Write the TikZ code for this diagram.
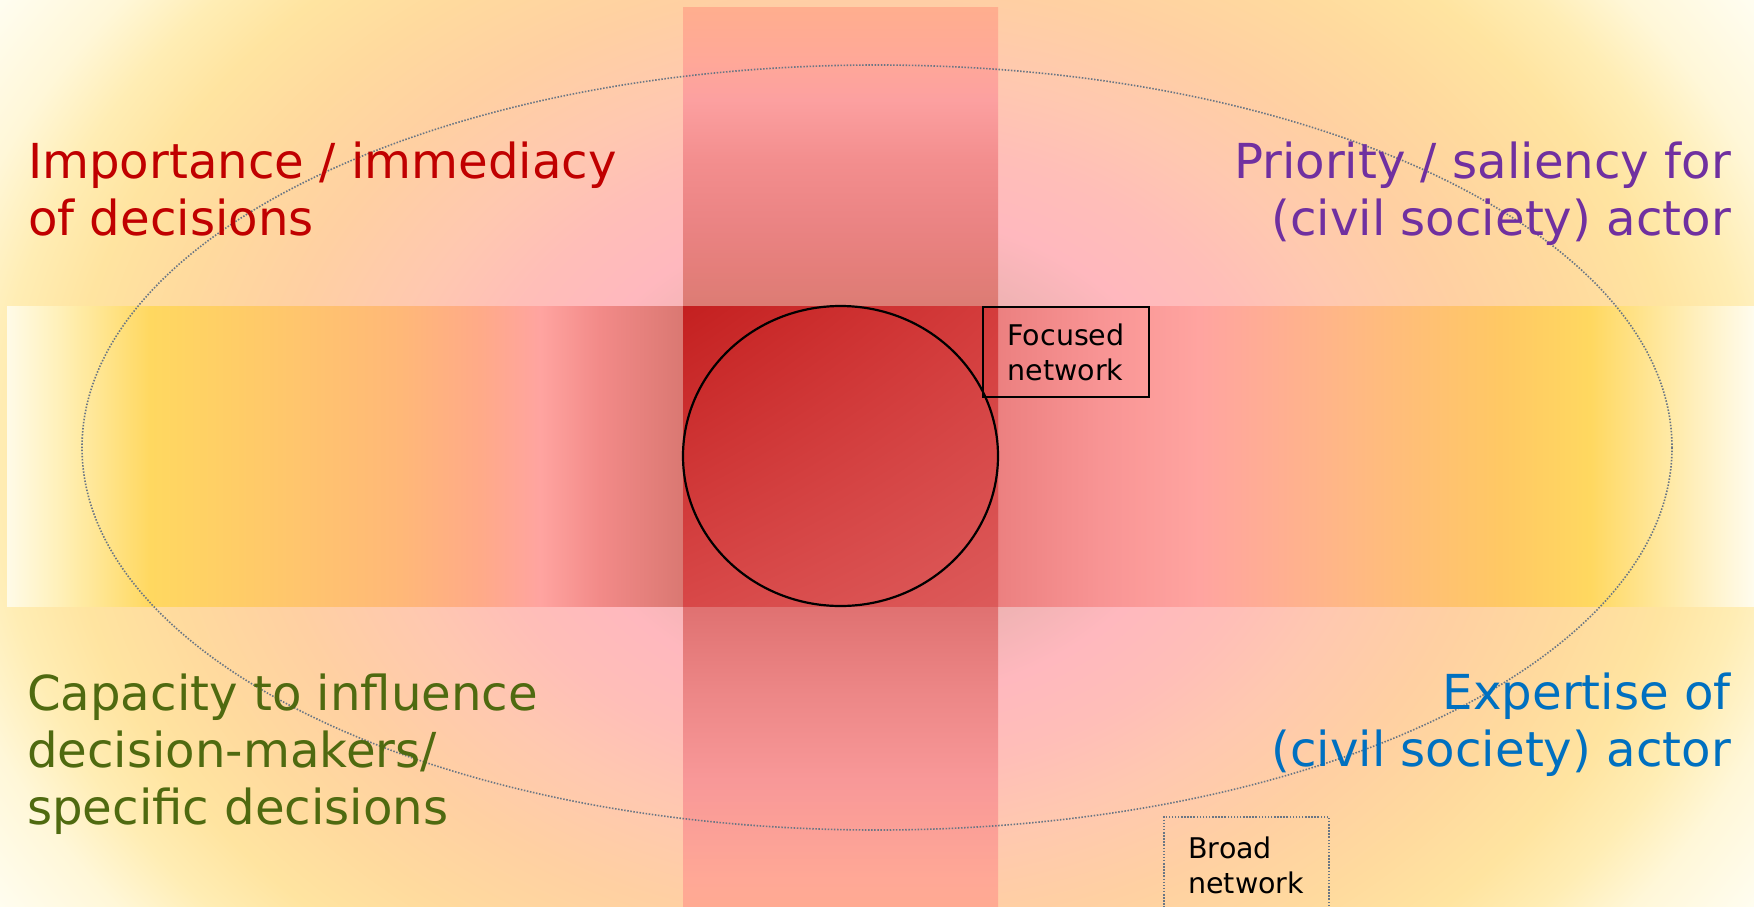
\documentclass[tikz,border=0pt]{standalone}
\usepackage{fontspec}
\setmainfont{DejaVu Sans}
\usetikzlibrary{shadings}

% background radial colours
\definecolor{bga}{HTML}{C07C7C}
\definecolor{bgb}{HTML}{DCA2A2}
\definecolor{bgc}{HTML}{EEB2B2}
\definecolor{bgd}{HTML}{FFB8BE}
\definecolor{bge}{HTML}{FFBEB8}
\definecolor{bgf}{HTML}{FFC8B0}
\definecolor{bgg}{HTML}{FFD0A2}
\definecolor{bgh}{HTML}{FFDA9E}
\definecolor{bgi}{HTML}{FFE4A0}
\definecolor{bgj}{HTML}{FFEDB4}
\definecolor{bgk}{HTML}{FFF7D8}
\definecolor{bgl}{HTML}{FFFDF0}
% horizontal band colours
\definecolor{ha}{HTML}{FFFBE8}
\definecolor{hb}{HTML}{FFF0B8}
\definecolor{hc}{HTML}{FFD860}
\definecolor{hd}{HTML}{FFCB68}
\definecolor{he}{HTML}{FFB878}
\definecolor{hf}{HTML}{FFAA88}
\definecolor{hg}{HTML}{FFA4A0}
\definecolor{hh}{HTML}{F28A88}
\definecolor{hi}{HTML}{DA7872}
\definecolor{hj}{HTML}{EC8080}
\definecolor{hk}{HTML}{F89494}
\definecolor{hl}{HTML}{FFA4A0}
\definecolor{hm}{HTML}{FFB884}
\definecolor{hn}{HTML}{FFC864}
\definecolor{ho}{HTML}{FFD860}
\definecolor{hp}{HTML}{FFF0C0}
\definecolor{hq}{HTML}{FFFCEE}
% vertical band colours (bottom to top)
\definecolor{va}{HTML}{FFAA92}
\definecolor{vb}{HTML}{FFA896}
\definecolor{vc}{HTML}{F89898}
\definecolor{vd}{HTML}{EC8686}
\definecolor{ve}{HTML}{E07272}
\definecolor{vf}{HTML}{D06060}
\definecolor{vg}{HTML}{DC7C74}
\definecolor{vh}{HTML}{E47E7A}
\definecolor{vi}{HTML}{EB8484}
\definecolor{vj}{HTML}{F38E8E}
\definecolor{vk}{HTML}{FCA0A0}
\definecolor{vl}{HTML}{FFA898}
\definecolor{vm}{HTML}{FFAE8E}
% centre
\definecolor{cul}{HTML}{C42020}
\definecolor{cur}{HTML}{D43C3C}
\definecolor{cll}{HTML}{D84848}
\definecolor{clr}{HTML}{DC5A5A}
% text & lines
\definecolor{tred}{HTML}{C00000}
\definecolor{tpurple}{HTML}{7030A0}
\definecolor{tgreen}{HTML}{4F6A10}
\definecolor{tblue}{HTML}{0070C0}
\definecolor{dotgray}{HTML}{6A7684}

\pgfdeclareradialshading{bgshade}{\pgfpoint{0bp}{0bp}}{%
color(0bp)=(bga); color(3.75bp)=(bgb); color(6.25bp)=(bgc); color(8.75bp)=(bgd);
color(11.25bp)=(bge); color(13.75bp)=(bgf); color(17bp)=(bgg); color(20bp)=(bgh);
color(22.5bp)=(bgi); color(24.5bp)=(bgj); color(26.5bp)=(bgk); color(29.25bp)=(bgl);
color(50bp)=(bgl)}

\pgfdeclarehorizontalshading{hband}{100bp}{%
color(0bp)=(ha); color(25bp)=(ha); color(26.52bp)=(hb); color(29.09bp)=(hc);
color(31.95bp)=(hd); color(36.25bp)=(he); color(38.54bp)=(hf); color(40.25bp)=(hg);
color(41.97bp)=(hh); color(44.35bp)=(hi); color(53.36bp)=(hj); color(56.28bp)=(hk);
color(59.14bp)=(hl); color(63.44bp)=(hm); color(67.73bp)=(hn); color(70.31bp)=(ho);
color(73.45bp)=(hp); color(75bp)=(hq); color(100bp)=(hq)}

\pgfdeclareverticalshading{vband}{100bp}{%
color(0bp)=(va); color(25bp)=(va); color(26.45bp)=(vb); color(32.01bp)=(vc);
color(37.01bp)=(vd); color(41.46bp)=(ve); color(50bp)=(vf); color(58.43bp)=(vg);
color(60.37bp)=(vh); color(63.15bp)=(vi); color(66.49bp)=(vj); color(69.83bp)=(vk);
color(72.05bp)=(vl); color(75bp)=(vm); color(100bp)=(vm)}

\tikzset{
  bigtext/.style={inner sep=0pt, font=\fontsize{48.2}{57}\selectfont},
  leftline/.style={bigtext, anchor=base west},
  rightline/.style={bigtext, anchor=base east},
  corering/.style={draw=black, line width=2.2pt},
  outerdots/.style={draw=dotgray, line width=1.6pt, dash pattern=on 1.5pt off 1.6pt},
  focusbox/.style={draw=black, line width=2pt, minimum width=166pt, minimum height=90pt,
    anchor=north west, inner sep=0pt, align=left, font=\fontsize{28.5}{35}\selectfont},
  broadbox/.style={draw=dotgray, line width=1.5pt, dash pattern=on 1.5pt off 1.6pt,
    minimum width=165pt, minimum height=98pt, anchor=north west, inner sep=0pt,
    align=left, font=\fontsize{28.5}{35}\selectfont}
}

\begin{document}
\begin{tikzpicture}[x=1pt, y=-1pt]
\useasboundingbox (0,0) rectangle (1754,906);
\begin{scope}
\clip (0,0) rectangle (1754,906);
\fill[bgl] (0,0) rectangle (1754,906);
\shade[shading=bgshade] (-25,-244) rectangle (1775,1156);
\shade[shading=hband] (7,306) rectangle (1754,606);
\shade[shading=vband] (683,7) rectangle (998,906);
\shade[upper left=cul, upper right=cur, lower left=cll, lower right=clr] (683,306) rectangle (998,606);

\draw[outerdots] (877,447.5) ellipse [x radius=795, y radius=382.5];
\draw[corering] (840.5,456) ellipse [x radius=157.5, y radius=150];

\node[focusbox] (focus) at (982,306) {Focused\\network};
\node[broadbox] (broad) at (1163,816) {Broad\\network};

\node[leftline, text=tred] (imp1) at (28,178) {Importance / immediacy};
\node[leftline, text=tred] (imp2) at (28,235) {of decisions};

\node[rightline, text=tpurple] (pri1) at (1731,178) {Priority / saliency for};
\node[rightline, text=tpurple] (pri2) at (1731,235) {(civil society) actor};

\node[leftline, text=tgreen] (cap1) at (27,710) {Capacity to influence};
\node[leftline, text=tgreen] (cap2) at (27,767) {decision-makers/};
\node[leftline, text=tgreen] (cap3) at (27,824) {specific decisions};

\node[rightline, text=tblue] (exp1) at (1731,709) {Expertise of};
\node[rightline, text=tblue] (exp2) at (1731,766) {(civil society) actor};
\end{scope}
\end{tikzpicture}
\end{document}
